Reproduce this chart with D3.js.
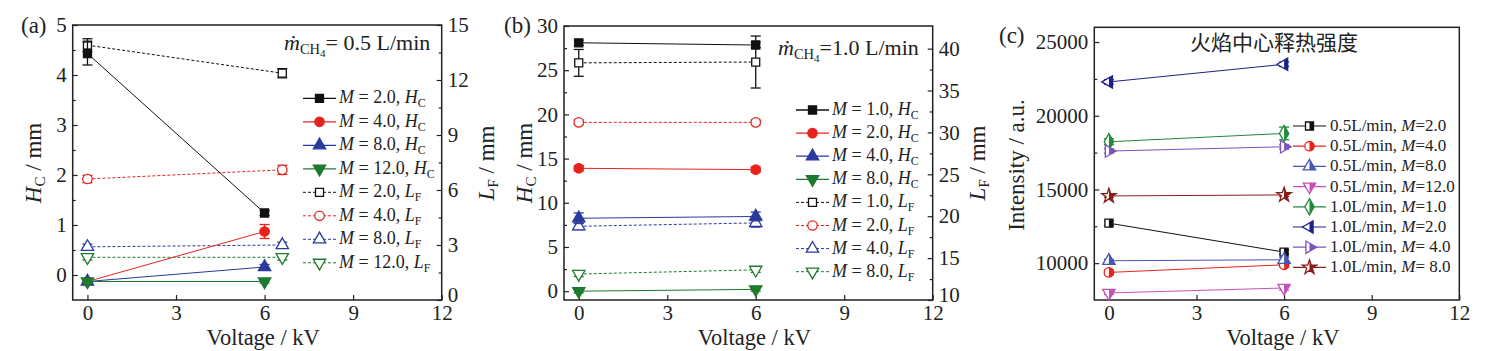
<!DOCTYPE html>
<html>
<head>
<meta charset="utf-8">
<title></title>
<script src="https://cdn.jsdelivr.net/npm/d3@7"></script>
<style type="text/css">
	body { margin: 0; background: #fff; }
	svg text { font-family: "Liberation Serif", "Times New Roman", Times, "DejaVu Serif", serif; fill: #222; }
	.tick line { stroke: #222; stroke-width: 1.2; }
	.frame { fill: none; stroke: #222; stroke-width: 1.5; }
</style>
</head>
<body>
<script type="text/javascript">

var width = 1487,
	height = 351;

// ---------- data ----------
var volts = [0, 6];
var voltsLFa = [0, 6.6];   // in (a) the L_F points sit a bit right of 6 kV

// (a) 0.5 L/min
var mA = ["2.0", "4.0", "8.0", "12.0"];
var hcA = [[4.43, 1.24], [-0.13, 0.87], [-0.13, 0.16], [-0.13, -0.13]];
var hcErrA = [[0.23, 0.05], [0.04, 0.14], [0.04, 0.05], [0.03, 0.03]];
var lfA = [[13.9, 12.37], [6.6, 7.1], [2.9, 3.0], [2.33, 2.33]];
var lfErrA = [[0.35, 0.25], [0.2, 0.25], [0.15, 0.15], [0.15, 0.15]];

// (b) 1.0 L/min
var mB = ["1.0", "2.0", "4.0", "8.0"];
var hcB = [[28.1, 27.85], [13.9, 13.75], [8.25, 8.45], [0.0, 0.2]];
var hcErrB = [[0.3, 0.3], [0.3, 0.3], [0.6, 0.5], [0.2, 0.2]];
var lfB = [[38.3, 38.4], [31.2, 31.2], [18.8, 19.2], [13.1, 13.6]];
var lfErrB = [[1.6, 3.1], [0.3, 0.3], [0.4, 0.5], [0.3, 0.3]];

// (c) heat release intensity
var rateC = ["0.5", "0.5", "0.5", "0.5", "1.0", "1.0", "1.0", "1.0"];
var mC = ["2.0", "4.0", "8.0", "12.0", "1.0", "2.0", " 4.0", " 8.0"];
var intensity = [[12713, 10750], [9371, 9890], [10162, 10230], [7976, 8315],
                 [18234, 18800], [22294, 23491], [17605, 17895], [14560, 14628]];
var intErr = [[150, 150], [150, 150], [100, 150], [100, 150],
              [200, 430], [150, 150], [150, 150], [100, 100]];

// ticks
var xTicks = [0, 3, 6, 9, 12];
var yTicksA = [0, 1, 2, 3, 4, 5];
var yMinorA = [0.5, 1.5, 2.5, 3.5, 4.5];
var y2TicksA = [0, 3, 6, 9, 12, 15];
var y2MinorA = [1.5, 4.5, 7.5, 10.5, 13.5];
var yTicksB = [0, 5, 10, 15, 20, 25, 30];
var yMinorB = [2.5, 7.5, 12.5, 17.5, 22.5, 27.5];
var y2TicksB = [10, 15, 20, 25, 30, 35, 40];
var y2MinorB = [12.5, 17.5, 22.5, 27.5, 32.5, 37.5];
var yTicksC = [10000, 15000, 20000, 25000];
var yMinorC = [12500, 17500, 22500];

var colorsAB = ["#111", "#e8231c", "#2b3a9c", "#1d7a2e"];
var shapesAB = ["square", "circle", "triangle", "triDown"];
var colorsC = ["#111", "#e8231c", "#4556b4", "#c352b4", "#1f8a38", "#1b2288", "#7b53ba", "#8b1c1c"];
var shapesC = ["square", "circle", "triangle", "triDown", "diamond", "triLeft", "triRight", "star"];

var serif = "'Liberation Serif', 'Times New Roman', Times, 'DejaVu Serif', serif";

var svg = d3.select('body').append('svg')
			.attr('width', width)
			.attr('height', height)
			.attr('font-family', serif)

svg.append("defs").append("clipPath").attr("id", "half")
	.append("rect").attr("x", 0).attr("y", -12).attr("width", 12).attr("height", 24);

// ---------- helpers ----------
function rich(t, parts) {
	var shift = 0;
	parts.forEach(function(p) {
		var s = t.append("tspan").text(p[0]);
		var st = p[1] || "";
		var target = 0;
		if (st.indexOf("i") >= 0) s.attr("font-style", "italic");
		if (st.indexOf("s") >= 0) { s.attr("font-size", "0.66em"); target = 4; }
		if (st.indexOf("t") >= 0) { s.attr("font-size", "0.5em"); target = 7; }
		if (target != shift) { s.attr("dy", target - shift); shift = target; }
	});
}

var symbolType = {
	square: [d3.symbolSquare, 0, 64],
	circle: [d3.symbolCircle, 0, 70],
	triangle: [d3.symbolTriangle, 0, 66],
	triDown: [d3.symbolTriangle, 180, 66],
	triLeft: [d3.symbolTriangle, -90, 66],
	triRight: [d3.symbolTriangle, 90, 66],
	diamond: [d3.symbolDiamond, 0, 76],
	star: [d3.symbolStar, 0, 66]
};

// fill: "full", "open" or "half"
function marker(g, shape, cx, cy, color, fill) {
	var st = symbolType[shape];
	var d = d3.symbol().type(st[0]).size(st[2])();
	var m = g.append("g").attr("transform", "translate(" + cx + "," + cy + ")");
	m.append("path").attr("d", d)
		.attr("transform", "rotate(" + st[1] + ")")
		.attr("fill", fill == "full" ? color : "#fff")
		.attr("stroke", color).attr("stroke-width", 1.3);
	if (fill == "half") {
		m.append("g").attr("clip-path", "url(#half)")
			.append("path").attr("d", d)
			.attr("transform", "rotate(" + st[1] + ")")
			.attr("fill", color);
	}
}

function errbar(g, x, y, v, e, color) {
	var cap = 5;
	g.append("line").attr("x1", x).attr("x2", x).attr("y1", y(v - e)).attr("y2", y(v + e))
		.attr("stroke", color).attr("stroke-width", 1.3);
	[v - e, v + e].forEach(function(w) {
		g.append("line").attr("x1", x - cap).attr("x2", x + cap).attr("y1", y(w)).attr("y2", y(w))
			.attr("stroke", color).attr("stroke-width", 1.3);
	});
}

function series(g, x, y, xs, vals, errs, color, shape, fill, dashed) {
	var line = d3.line().x(function(d, i) { return x(xs[i]); }).y(function(d) { return y(d); });
	g.append("path").attr("d", line(vals)).attr("fill", "none")
		.attr("stroke", color).attr("stroke-width", 1)
		.attr("stroke-dasharray", dashed ? "3,2" : null);
	vals.forEach(function(v, i) { errbar(g, x(xs[i]), y, v, errs[i], color); });
	vals.forEach(function(v, i) { marker(g, shape, x(xs[i]), y(v), color, fill); });
}

var fmt = d3.format("~g");

function styleTicks(s) {
	s.select(".domain").remove();
	s.attr("font-family", null);
	s.selectAll(".tick text").attr("font-size", 21).attr("fill", "#222");
}

function axes(p, x, y, yTicks, yMinor) {
	var g = svg.append("g");
	g.append("g").attr("transform", "translate(0," + p.bottom + ")")
		.call(d3.axisBottom(x).tickValues(xTicks).tickFormat(fmt).tickSize(-5).tickSizeOuter(0).tickPadding(5))
		.call(styleTicks);
	g.append("g").attr("transform", "translate(" + p.left + ",0)")
		.call(d3.axisLeft(y).tickValues(yTicks).tickFormat(d3.format("d")).tickSize(-5).tickSizeOuter(0).tickPadding(6))
		.call(styleTicks);
	g.append("g").attr("transform", "translate(" + p.left + ",0)")
		.call(d3.axisLeft(y).tickValues(yMinor).tickSize(-3).tickSizeOuter(0).tickFormat(""))
		.call(styleTicks);
	svg.append("rect").attr("class", "frame")
		.attr("x", p.left).attr("y", p.top).attr("width", p.right - p.left).attr("height", p.bottom - p.top);
	svg.append("text").attr("x", (p.left + p.right) / 2 + 6).attr("y", 345)
		.attr("text-anchor", "middle").attr("font-size", 22.5).text("Voltage / kV");
}

function rightAxis(p, y2, ticks, minor) {
	var g = svg.append("g").attr("transform", "translate(" + p.right + ",0)");
	g.append("g").call(d3.axisRight(y2).tickValues(ticks).tickFormat(d3.format("d")).tickSize(-5).tickSizeOuter(0).tickPadding(6))
		.call(styleTicks)
		.call(function(s) {
			// bottom label sits right on top of the x tick "12": lift it a little
			s.select(".tick text").attr("dy", "0.05em");
		});
	g.append("g").call(d3.axisRight(y2).tickValues(minor).tickSize(-3).tickSizeOuter(0).tickFormat(""))
		.call(styleTicks);
}

function vlabel(cx, cy, parts) {
	var t = svg.append("text").attr("transform", "translate(" + cx + "," + cy + ") rotate(-90)")
		.attr("text-anchor", "middle").attr("dy", "0.35em").attr("font-size", 23);
	rich(t, parts);
}

// ---------- panels (a) and (b) ----------
function panelHL(p) {
	var x = d3.scaleLinear().domain([-0.5, 12]).range([p.left, p.right]);
	var y = d3.scaleLinear().domain(p.yDomain).range([p.bottom, p.top]);
	var y2 = d3.scaleLinear().domain(p.y2Domain).range([p.bottom, p.top]);
	axes(p, x, y, p.yTicks, p.yMinor);
	rightAxis(p, y2, p.y2Ticks, p.y2Minor);

	var g = svg.append("g");
	p.lf.forEach(function(vals, i) {
		series(g, x, y2, p.lfX, vals, p.lfErr[i], colorsAB[i], shapesAB[i], "open", true);
	});
	p.hc.forEach(function(vals, i) {
		series(g, x, y, volts, vals, p.hcErr[i], colorsAB[i], shapesAB[i], "full", false);
	});

	// legend
	var lg = svg.append("g");
	var rows = [];
	p.m.forEach(function(m, i) { rows.push({ m: m, i: i, kind: "H", sub: "C" }); });
	p.m.forEach(function(m, i) { rows.push({ m: m, i: i, kind: "L", sub: "F" }); });
	rows.forEach(function(r, k) {
		var yy = p.legY + k * p.legStep;
		var c = colorsAB[r.i];
		lg.append("line").attr("x1", p.legX).attr("x2", p.legX + 33).attr("y1", yy).attr("y2", yy)
			.attr("stroke", c).attr("stroke-width", r.kind == "H" ? 1.3 : 1)
			.attr("stroke-dasharray", r.kind == "H" ? null : "3,2");
		marker(lg, shapesAB[r.i], p.legX + 16.5, yy, c, r.kind == "H" ? "full" : "open");
		var t = lg.append("text").attr("x", p.legX + 36).attr("y", yy + 5).attr("font-size", 18);
		rich(t, [["M", "i"], [" = " + r.m + ", "], [r.kind, "i"], [r.sub, "s"]]);
	});

	svg.append("text").attr("x", p.tagX).attr("y", p.tagY).attr("font-size", 23).text(p.tag);
	var ann = svg.append("text").attr("x", p.annX).attr("y", p.annY).attr("font-size", 22);
	rich(ann, [["ṁ", "i"], ["CH", "s"], ["4", "t"], [p.annText]]);

	vlabel(p.left - 40, 163, [["H", "i"], ["C", "s"], [" / mm"]]);
	vlabel(p.right + 44, 163, [["L", "i"], ["F", "s"], [" / mm"]]);
}

panelHL({
	left: 72.7, right: 441.7, top: 25, bottom: 300,
	yDomain: [-0.5, 5], y2Domain: [0, 15],
	yTicks: yTicksA, yMinor: yMinorA, y2Ticks: y2TicksA, y2Minor: y2MinorA,
	m: mA, hc: hcA, hcErr: hcErrA, lf: lfA, lfErr: lfErrA, lfX: voltsLFa,
	legX: 303, legY: 98.3, legStep: 23.5,
	tag: "(a)", tagX: 21, tagY: 33,
	annX: 284, annY: 50, annText: "= 0.5 L/min"
});

panelHL({
	left: 564, right: 932.7, top: 26, bottom: 300,
	yDomain: [-1, 30], y2Domain: [10, 42.7],
	yTicks: yTicksB, yMinor: yMinorB, y2Ticks: y2TicksB, y2Minor: y2MinorB,
	m: mB, hc: hcB, hcErr: hcErrB, lf: lfB, lfErr: lfErrB, lfX: volts,
	legX: 796, legY: 110, legStep: 23.1,
	tag: "(b)", tagX: 504, tagY: 33,
	annX: 778, annY: 55, annText: "=1.0 L/min"
});

// ---------- panel (c) ----------
(function() {
	var p = { left: 1094.3, right: 1459.3, top: 27.3, bottom: 300 };
	var x = d3.scaleLinear().domain([-0.5, 12]).range([p.left, p.right]);
	var y = d3.scaleLinear().domain([7500, 26000]).range([p.bottom, p.top]);
	axes(p, x, y, yTicksC, yMinorC);

	var g = svg.append("g");
	intensity.forEach(function(vals, i) {
		series(g, x, y, volts, vals, intErr[i], colorsC[i], shapesC[i], "half", false);
	});

	var lg = svg.append("g");
	rateC.forEach(function(r, i) {
		var yy = 126 + i * 20.2;
		lg.append("line").attr("x1", 1293).attr("x2", 1326).attr("y1", yy).attr("y2", yy)
			.attr("stroke", colorsC[i]).attr("stroke-width", 1.2);
		marker(lg, shapesC[i], 1309.5, yy, colorsC[i], "half");
		var t = lg.append("text").attr("x", 1330).attr("y", yy + 5).attr("font-size", 17);
		rich(t, [[r + "L/min, "], ["M", "i"], ["=" + mC[i]]]);
	});

	svg.append("text").attr("x", 999).attr("y", 43).attr("font-size", 23).text("(c)");
	svg.append("text").attr("x", 1274).attr("y", 50).attr("text-anchor", "middle")
		.attr("font-size", 21).style("font-family", "'Noto Sans CJK SC', sans-serif").text("火焰中心释热强度");
	vlabel(1016, 165, [["Intensity / a.u."]]);
})();

</script>
</body>
</html>
